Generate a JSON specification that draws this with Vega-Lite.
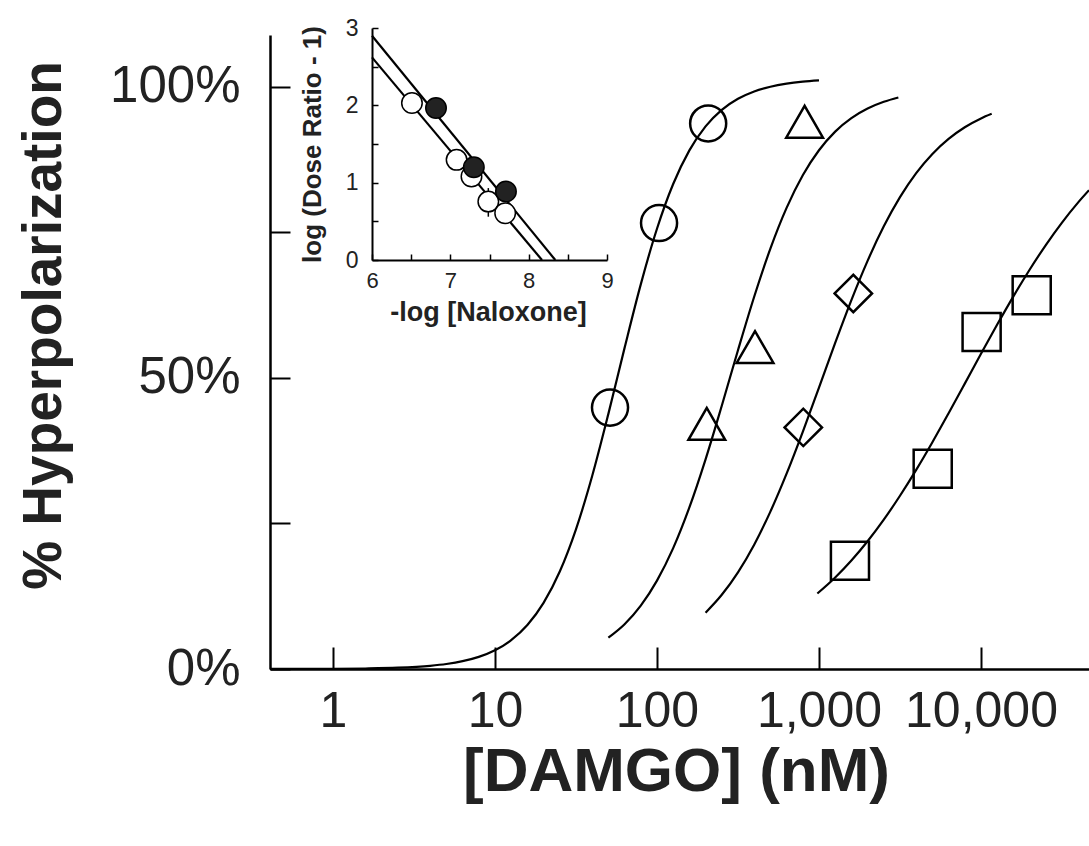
{
  "$schema": "https://vega.github.io/schema/vega-lite/v6.json",
  "width": 819,
  "height": 634,
  "autosize": "none",
  "padding": {"left": 270, "top": 35, "right": 0, "bottom": 177},
  "background": "white",
  "config": {"view": {"stroke": null}, "font": "Liberation Sans"},
  "datasets": {
    "curves": [
      {"curve": "c1", "x": 0.4087, "y": 0.01},
      {"curve": "c1", "x": 0.631, "y": 0.02},
      {"curve": "c1", "x": 1, "y": 0.04},
      {"curve": "c1", "x": 1.585, "y": 0.09},
      {"curve": "c1", "x": 2.512, "y": 0.22},
      {"curve": "c1", "x": 3.981, "y": 0.55},
      {"curve": "c1", "x": 5.012, "y": 0.86},
      {"curve": "c1", "x": 6.31, "y": 1.34},
      {"curve": "c1", "x": 7.943, "y": 2.08},
      {"curve": "c1", "x": 10, "y": 3.22},
      {"curve": "c1", "x": 12.59, "y": 4.96},
      {"curve": "c1", "x": 15.85, "y": 7.56},
      {"curve": "c1", "x": 19.95, "y": 11.36},
      {"curve": "c1", "x": 25.12, "y": 16.74},
      {"curve": "c1", "x": 31.62, "y": 23.99},
      {"curve": "c1", "x": 39.81, "y": 33.15},
      {"curve": "c1", "x": 50.12, "y": 43.82},
      {"curve": "c1", "x": 63.1, "y": 55.16},
      {"curve": "c1", "x": 79.43, "y": 66.07},
      {"curve": "c1", "x": 100, "y": 75.62},
      {"curve": "c1", "x": 125.9, "y": 83.3},
      {"curve": "c1", "x": 158.5, "y": 89.08},
      {"curve": "c1", "x": 199.5, "y": 93.21},
      {"curve": "c1", "x": 251.2, "y": 96.05},
      {"curve": "c1", "x": 316.2, "y": 97.95},
      {"curve": "c1", "x": 398.1, "y": 99.21},
      {"curve": "c1", "x": 501.2, "y": 100.02},
      {"curve": "c1", "x": 631, "y": 100.55},
      {"curve": "c1", "x": 794.3, "y": 100.89},
      {"curve": "c1", "x": 1000, "y": 101.11},
      {"curve": "c2", "x": 50.12, "y": 5.38},
      {"curve": "c2", "x": 63.1, "y": 7.69},
      {"curve": "c2", "x": 79.43, "y": 10.88},
      {"curve": "c2", "x": 100, "y": 15.18},
      {"curve": "c2", "x": 125.9, "y": 20.77},
      {"curve": "c2", "x": 158.5, "y": 27.76},
      {"curve": "c2", "x": 199.5, "y": 36.02},
      {"curve": "c2", "x": 251.2, "y": 45.22},
      {"curve": "c2", "x": 316.2, "y": 54.75},
      {"curve": "c2", "x": 398.1, "y": 63.94},
      {"curve": "c2", "x": 501.2, "y": 72.21},
      {"curve": "c2", "x": 631, "y": 79.2},
      {"curve": "c2", "x": 794.3, "y": 84.8},
      {"curve": "c2", "x": 1000, "y": 89.1},
      {"curve": "c2", "x": 1259, "y": 92.3},
      {"curve": "c2", "x": 1585, "y": 94.61},
      {"curve": "c2", "x": 1995, "y": 96.26},
      {"curve": "c2", "x": 2512, "y": 97.42},
      {"curve": "c2", "x": 3090, "y": 98.16},
      {"curve": "c3", "x": 199.5, "y": 9.68},
      {"curve": "c3", "x": 251.2, "y": 12.75},
      {"curve": "c3", "x": 316.2, "y": 16.61},
      {"curve": "c3", "x": 398.1, "y": 21.36},
      {"curve": "c3", "x": 501.2, "y": 27.03},
      {"curve": "c3", "x": 631, "y": 33.55},
      {"curve": "c3", "x": 794.3, "y": 40.74},
      {"curve": "c3", "x": 1000, "y": 48.35},
      {"curve": "c3", "x": 1259, "y": 56.01},
      {"curve": "c3", "x": 1585, "y": 63.36},
      {"curve": "c3", "x": 1995, "y": 70.1},
      {"curve": "c3", "x": 2512, "y": 76.03},
      {"curve": "c3", "x": 3162, "y": 81.05},
      {"curve": "c3", "x": 3981, "y": 85.18},
      {"curve": "c3", "x": 5012, "y": 88.48},
      {"curve": "c3", "x": 6310, "y": 91.06},
      {"curve": "c3", "x": 7943, "y": 93.06},
      {"curve": "c3", "x": 10000, "y": 94.57},
      {"curve": "c3", "x": 11640, "y": 95.36},
      {"curve": "c4", "x": 977, "y": 12.97},
      {"curve": "c4", "x": 1259, "y": 15.73},
      {"curve": "c4", "x": 1585, "y": 18.64},
      {"curve": "c4", "x": 1995, "y": 21.95},
      {"curve": "c4", "x": 2512, "y": 25.66},
      {"curve": "c4", "x": 3162, "y": 29.76},
      {"curve": "c4", "x": 3981, "y": 34.21},
      {"curve": "c4", "x": 5012, "y": 38.96},
      {"curve": "c4", "x": 6310, "y": 43.94},
      {"curve": "c4", "x": 7943, "y": 49.02},
      {"curve": "c4", "x": 10000, "y": 54.14},
      {"curve": "c4", "x": 12590, "y": 59.16},
      {"curve": "c4", "x": 15850, "y": 64.01},
      {"curve": "c4", "x": 19950, "y": 68.58},
      {"curve": "c4", "x": 25120, "y": 72.82},
      {"curve": "c4", "x": 31620, "y": 76.68},
      {"curve": "c4", "x": 39810, "y": 80.15},
      {"curve": "c4", "x": 46416, "y": 82.24}
    ],
    "points": [
      {"series": "circle", "x": 51.3, "y": 44.9},
      {"series": "circle", "x": 103, "y": 76.6},
      {"series": "circle", "x": 207, "y": 93.7},
      {"series": "triangle", "x": 203, "y": 42.1},
      {"series": "triangle", "x": 403, "y": 55.3},
      {"series": "triangle", "x": 815, "y": 94.0},
      {"series": "diamond", "x": 800, "y": 41.5},
      {"series": "diamond", "x": 1629, "y": 64.5},
      {"series": "square", "x": 1553, "y": 18.6},
      {"series": "square", "x": 5035, "y": 34.4},
      {"series": "square", "x": 10090, "y": 57.9},
      {"series": "square", "x": 20560, "y": 64.2}
    ],
    "inset_lines": [
      {"group": "filled", "x": 6, "y": 2.9},
      {"group": "filled", "x": 8.34, "y": 0},
      {"group": "open", "x": 6, "y": 2.62},
      {"group": "open", "x": 8.17, "y": 0}
    ],
    "inset_err": [
      {"x": 7.485, "lo": 0.56, "hi": 0.93}
    ],
    "inset_open": [
      {"x": 6.51, "y": 2.03},
      {"x": 7.08, "y": 1.295},
      {"x": 7.27, "y": 1.08},
      {"x": 7.485, "y": 0.755},
      {"x": 7.7, "y": 0.605}
    ],
    "inset_filled": [
      {"x": 6.817, "y": 1.965},
      {"x": 7.3, "y": 1.2},
      {"x": 7.71, "y": 0.885}
    ]
  },
  "layer": [
    {
      "layer": [
        {
          "data": {"name": "curves"},
          "mark": {"type": "line", "stroke": "black", "strokeWidth": 2.2, "interpolate": "monotone"},
          "encoding": {
            "x": {
              "field": "x", "type": "quantitative",
              "scale": {"type": "log", "domain": [0.4087, 46416], "nice": false},
              "axis": {
                "orient": "bottom",
                "values": [1, 10, 100, 1000, 10000],
                "labelExpr": "format(datum.value, ',')",
                "grid": false,
                "domainColor": "black", "domainWidth": 2.5,
                "tickColor": "black", "tickWidth": 2, "tickSize": -22,
                "labelFont": "Liberation Sans", "labelFontSize": 50, "labelColor": "#222",
                "labelPadding": 39, "labelBaseline": "top", "labelFlush": false, "labelOverlap": false, "labelBound": false,
                "title": "[DAMGO] (nM)",
                "titleFont": "Liberation Sans", "titleFontSize": 62, "titleFontWeight": "bold", "titleColor": "#222",
                "titleX": 406, "titleY": 102, "titleAlign": "center", "titleBaseline": "middle"
              }
            },
            "y": {
              "field": "y", "type": "quantitative",
              "scale": {"domain": [0, 108.9], "nice": false, "zero": true},
              "axis": {
                "orient": "left",
                "values": [0, 25, 50, 75, 100],
                "labelExpr": "datum.value % 50 == 0 ? datum.value + '%' : ''",
                "grid": false,
                "domainColor": "black", "domainWidth": 2.5,
                "tickColor": "black", "tickWidth": 2, "tickSize": -20,
                "labelFont": "Liberation Sans", "labelFontSize": 51, "labelColor": "#222",
                "labelPadding": 50, "labelBaseline": "middle", "labelFlush": false, "labelOverlap": false, "labelBound": false,
                "title": "% Hyperpolarization",
                "titleFont": "Liberation Sans", "titleFontSize": 55, "titleFontWeight": "bold", "titleColor": "#222",
                "titleAngle": -90, "titleX": -227, "titleY": 290, "titleAlign": "center", "titleBaseline": "middle"
              }
            },
            "detail": {"field": "curve"}
          }
        },
        {
          "data": {"name": "points"},
          "mark": {"type": "point", "filled": false, "stroke": "black", "strokeWidth": 2.5, "opacity": 1},
          "encoding": {
            "x": {"field": "x", "type": "quantitative"},
            "y": {"field": "y", "type": "quantitative"},
            "shape": {
              "field": "series", "type": "nominal",
              "scale": {"domain": ["circle", "triangle", "diamond", "square"], "range": ["circle", "triangle-up", "diamond", "square"]},
              "legend": null
            },
            "size": {
              "field": "series", "type": "nominal",
              "scale": {"domain": ["circle", "triangle", "diamond", "square"], "range": [1300, 1450, 1800, 1150]},
              "legend": null
            }
          }
        }
      ]
    },
    {
      "layer": [
        {
          "data": {"name": "inset_lines"},
          "mark": {"type": "line", "stroke": "black", "strokeWidth": 2.2},
          "encoding": {
            "x": {
              "field": "x", "type": "quantitative",
              "scale": {"domain": [6, 9], "range": [102, 337], "nice": false, "zero": false},
              "axis": {
                "orient": "bottom", "offset": -409,
                "values": [6, 6.5, 7, 7.5, 8, 8.5, 9],
                "labelExpr": "datum.value % 1 == 0 ? datum.value : ''",
                "grid": false,
                "domainColor": "black", "domainWidth": 2,
                "tickColor": "black", "tickWidth": 1.5, "tickSize": -6,
                "labelFont": "Liberation Sans", "labelFontSize": 22, "labelColor": "#222",
                "labelPadding": 16, "labelBaseline": "top", "labelFlush": false, "labelOverlap": false, "labelBound": false,
                "title": "-log [Naloxone]",
                "titleFont": "Liberation Sans", "titleFontSize": 27, "titleFontWeight": "bold", "titleColor": "#222",
                "titleX": 218, "titleY": 52, "titleAlign": "center", "titleBaseline": "middle"
              }
            },
            "y": {
              "field": "y", "type": "quantitative",
              "scale": {"domain": [0, 3], "range": [225, -7], "nice": false, "zero": false},
              "axis": {
                "orient": "left", "offset": -102,
                "values": [0, 0.5, 1, 1.5, 2, 2.5, 3],
                "labelExpr": "datum.value % 1 == 0 ? datum.value : ''",
                "grid": false,
                "domainColor": "black", "domainWidth": 2,
                "tickColor": "black", "tickWidth": 1.5, "tickSize": -6,
                "labelFont": "Liberation Sans", "labelFontSize": 23, "labelColor": "#222",
                "labelPadding": 20, "labelBaseline": "middle", "labelFlush": false, "labelOverlap": false, "labelBound": false,
                "title": "log (Dose Ratio - 1)",
                "titleFont": "Liberation Sans", "titleFontSize": 26, "titleFontWeight": "bold", "titleColor": "#222",
                "titleAngle": -90, "titleX": -60, "titleY": 109, "titleAlign": "center", "titleBaseline": "middle"
              }
            },
            "detail": {"field": "group"}
          }
        },
        {
          "data": {"name": "inset_err"},
          "mark": {"type": "rule", "stroke": "black", "strokeWidth": 1.5},
          "encoding": {
            "x": {"field": "x", "type": "quantitative"},
            "y": {"field": "lo", "type": "quantitative"},
            "y2": {"field": "hi"}
          }
        },
        {
          "data": {"name": "inset_open"},
          "mark": {"type": "point", "shape": "circle", "filled": true, "fill": "white", "stroke": "black", "strokeWidth": 1.5, "size": 420, "opacity": 1},
          "encoding": {
            "x": {"field": "x", "type": "quantitative"},
            "y": {"field": "y", "type": "quantitative"}
          }
        },
        {
          "data": {"name": "inset_filled"},
          "mark": {"type": "point", "shape": "circle", "filled": true, "fill": "#222", "stroke": "black", "strokeWidth": 1.5, "size": 420, "opacity": 1},
          "encoding": {
            "x": {"field": "x", "type": "quantitative"},
            "y": {"field": "y", "type": "quantitative"}
          }
        }
      ]
    }
  ],
  "resolve": {
    "scale": {"x": "independent", "y": "independent", "shape": "independent", "size": "independent"},
    "axis": {"x": "independent", "y": "independent"}
  }
}
